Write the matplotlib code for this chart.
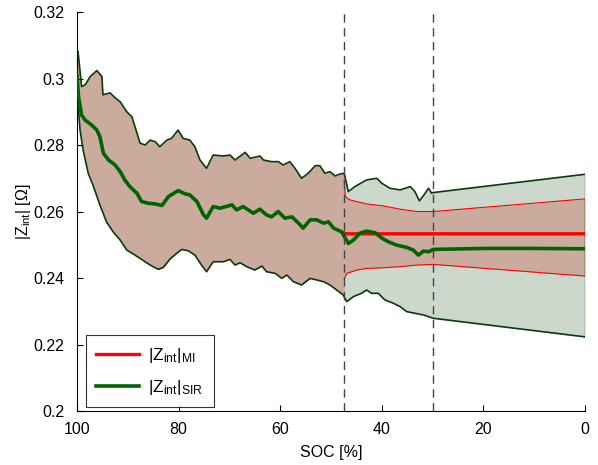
import numpy as np
import matplotlib
matplotlib.use("Agg")
import matplotlib.pyplot as plt

plt.rcParams['font.family'] = ['Liberation Sans', 'DejaVu Sans']
plt.rcParams['mathtext.fontset'] = 'custom'
plt.rcParams['mathtext.rm'] = 'Liberation Sans'
plt.rcParams['mathtext.it'] = 'Liberation Sans'

# SIR band (upper / lower bound) and mean
soc_up = [99.8, 99.1, 98.4, 97.4, 96.1, 95.1, 94.9, 93.5, 92.5, 91.5, 90.2, 89.2, 88.2, 87.6, 86.6,
          85.6, 84.6, 83.7, 82.3, 81.4, 80.1, 79.1, 77.8, 76.8, 75.8, 74.5, 73.2, 71.2, 69.9, 68.9,
          66.9, 65.9, 64.0, 63.3, 61.7, 60.4, 59.4, 58.1, 57.1, 55.8, 54.5, 53.1, 52.2, 51.2, 50.2,
          49.2, 48.2, 47.4, 46.6, 45.3, 43.0, 41.0, 40.0, 38.4, 36.4, 34.4, 33.5, 32.6, 31.7, 30.8,
          30.2, 29.9, 0.0]
sir_up = [0.3081, 0.2976, 0.2981, 0.3006, 0.3024, 0.3006, 0.2951, 0.2957, 0.2942, 0.2930, 0.2900,
          0.2885, 0.2836, 0.2806, 0.2800, 0.2815, 0.2810, 0.2795, 0.2815, 0.2820, 0.2845, 0.2820,
          0.2815, 0.2795, 0.2755, 0.2730, 0.2770, 0.2767, 0.2770, 0.2755, 0.2778, 0.2760, 0.2767,
          0.2755, 0.2750, 0.2750, 0.2740, 0.2750, 0.2730, 0.2700, 0.2715, 0.2738, 0.2738, 0.2715,
          0.2720, 0.2707, 0.2713, 0.2715, 0.2660, 0.2675, 0.2695, 0.2700, 0.2685, 0.2670, 0.2665,
          0.2675, 0.2660, 0.2632, 0.2650, 0.2670, 0.2655, 0.2657, 0.2712]

soc_lo = [99.8, 99.4, 98.8, 97.8, 96.8, 95.5, 94.2, 92.9, 91.5, 90.2, 88.9, 87.6, 85.6, 84.0, 83.0,
          81.7, 80.4, 79.4, 78.1, 76.8, 75.5, 74.5, 73.2, 71.2, 69.9, 68.9, 67.9, 66.6, 65.0, 63.6,
          62.7, 61.0, 59.7, 58.7, 57.4, 55.8, 54.1, 52.8, 51.5, 50.2, 48.9, 47.6, 46.9, 45.6, 44.0,
          43.0, 42.0, 40.7, 39.4, 37.7, 36.4, 35.1, 33.5, 31.8, 29.9, 0.0]
sir_lo = [0.2920, 0.2845, 0.2785, 0.2715, 0.2677, 0.2620, 0.2569, 0.2539, 0.2514, 0.2484, 0.2472,
          0.2459, 0.2439, 0.2426, 0.2432, 0.2457, 0.2474, 0.2486, 0.2482, 0.2469, 0.2439, 0.2419,
          0.2449, 0.2449, 0.2456, 0.2439, 0.2446, 0.2434, 0.2424, 0.2436, 0.2419, 0.2414, 0.2399,
          0.2409, 0.2389, 0.2379, 0.2399, 0.2394, 0.2389, 0.2379, 0.2364, 0.2349, 0.2329, 0.2344,
          0.2354, 0.2364, 0.2354, 0.2354, 0.2334, 0.2324, 0.2314, 0.2299, 0.2294, 0.2289, 0.2279,
          0.2223]

soc_mean = [100.0, 99.7, 99.1, 98.4, 97.1, 96.1, 95.5, 94.8, 93.8, 92.5, 91.5, 90.6, 89.6, 88.2, 87.3,
            86.0, 84.6, 83.3, 82.0, 80.1, 78.7, 77.8, 76.4, 75.1, 74.5, 73.2, 71.9, 69.5, 68.6, 67.3,
            65.3, 64.0, 62.7, 61.7, 60.4, 59.1, 57.7, 56.4, 55.5, 54.1, 52.8, 51.5, 50.5, 49.5, 47.9,
            46.6, 45.6, 44.3, 43.0, 41.3, 40.0, 38.7, 37.1, 35.1, 33.8, 32.8, 31.8, 30.8, 29.9, 20.0,
            10.0, 0.0]
sir_mean = [0.3010, 0.2945, 0.2890, 0.2875, 0.2860, 0.2845, 0.2825, 0.2775, 0.2755, 0.2740, 0.2720,
            0.2695, 0.2675, 0.2655, 0.2630, 0.2625, 0.2623, 0.2618, 0.2645, 0.2663, 0.2653, 0.2650,
            0.2630, 0.2590, 0.2580, 0.2615, 0.2610, 0.2620, 0.2605, 0.2615, 0.2595, 0.2607, 0.2590,
            0.2584, 0.2600, 0.2580, 0.2584, 0.2565, 0.2550, 0.2575, 0.2575, 0.2565, 0.2569, 0.2550,
            0.2539, 0.2504, 0.2514, 0.2535, 0.2541, 0.2536, 0.2520, 0.2509, 0.2499, 0.2492, 0.2484,
            0.2469, 0.2481, 0.2479, 0.2486, 0.2489, 0.2489, 0.2488]

# MI band, only differs from SIR after the first switch
soc_mi = [47.4, 47.2, 46.3, 43.0, 39.7, 36.4, 33.1, 29.9, 0.0]
mi_up = [0.2695, 0.2645, 0.2635, 0.2623, 0.2617, 0.2607, 0.2600, 0.2600, 0.2638]
soc_mi_lo = [47.4, 46.9, 44.9, 43.0, 39.7, 36.4, 33.1, 29.9, 0.0]
mi_lo = [0.2398, 0.2414, 0.2424, 0.2429, 0.2431, 0.2434, 0.2439, 0.2441, 0.2406]
mi_mean = [0.2535, 0.2533, 0.2533, 0.2533, 0.2533, 0.2533, 0.2533, 0.2533, 0.2533]

switch_soc = [47.4, 30.0]

fig = plt.figure(figsize=(5.98, 4.65), dpi=100)
ax = fig.add_axes([0.1288, 0.1161, 0.8495, 0.858])

# common grid for the fills
grid = np.linspace(0, 100, 2001)[::-1]
gu = np.interp(grid, soc_up[::-1], sir_up[::-1])
gl = np.interp(grid, soc_lo[::-1], sir_lo[::-1])
mu = np.interp(grid, soc_mi[::-1], mi_up[::-1])
ml = np.interp(grid, soc_mi_lo[::-1], mi_lo[::-1])
left = grid > switch_soc[0]
mu[left] = gu[left]
ml[left] = gl[left]

ax.fill_between(grid, ml, mu, color=(1.0, 0.0, 0.0), alpha=0.22, lw=0, zorder=1)
ax.fill_between(grid, gl, gu, color=(0.0, 0.24, 0.0), alpha=0.2, lw=0, zorder=2)

ax.plot(soc_mi, mi_up, color='red', lw=0.8, zorder=3)
ax.plot(soc_mi_lo, mi_lo, color='red', lw=0.8, zorder=3)
ax.plot(soc_up, sir_up, color='#0a3a0a', lw=1.2, zorder=4)
ax.plot(soc_lo, sir_lo, color='#0a3a0a', lw=1.2, zorder=4)
ax.plot([soc_up[-1], soc_lo[-1]], [sir_up[-1], sir_lo[-1]], color='#3a6a3a', lw=1.0, zorder=4)
ax.plot([0, 0], [mi_lo[-1], mi_up[-1]], color='#7a4a2a', lw=1.0, zorder=4)

l1, = ax.plot(soc_mi, mi_mean, color='red', lw=2.4, zorder=5)
l2, = ax.plot(soc_mean, sir_mean, color='#006400', lw=2.6, zorder=6)

for s in switch_soc:
    ax.axvline(s, color='#444444', lw=1.0, ls=(0, (6, 4)), zorder=7)

ax.set_xlim(100, 0)
ax.set_ylim(0.2, 0.32)
ax.set_xticks([100, 80, 60, 40, 20, 0])
ax.set_yticks([0.2, 0.22, 0.24, 0.26, 0.28, 0.3, 0.32])
ax.set_yticklabels(['0.2', '0.22', '0.24', '0.26', '0.28', '0.3', '0.32'])
ax.tick_params(direction='in', length=4, labelsize=11.5, width=0.8)
ax.tick_params(axis='x', pad=8)
ax.tick_params(axis='y', pad=9)
ax.spines['top'].set_visible(False)
ax.spines['right'].set_visible(False)
ax.set_xlabel('SOC [%]', fontsize=11.5, labelpad=6)
ax.set_ylabel(r'$|\mathrm{Z}_{\mathrm{int}}|$ [Ω]', fontsize=11.5, labelpad=0)

leg = ax.legend([l1, l2], [r'$|\mathrm{Z}_{\mathrm{int}}|_{\mathrm{MI}}$', r'$|\mathrm{Z}_{\mathrm{int}}|_{\mathrm{SIR}}$'],
                loc='lower left', bbox_to_anchor=(0.017, 0.01), fontsize=12.5, frameon=True,
                fancybox=False, edgecolor='black', handlelength=2.5, handletextpad=0.5,
                borderpad=0.6, labelspacing=0.75, borderaxespad=0)
leg.get_frame().set_linewidth(0.8)

fig.savefig('out.png', dpi=100)
